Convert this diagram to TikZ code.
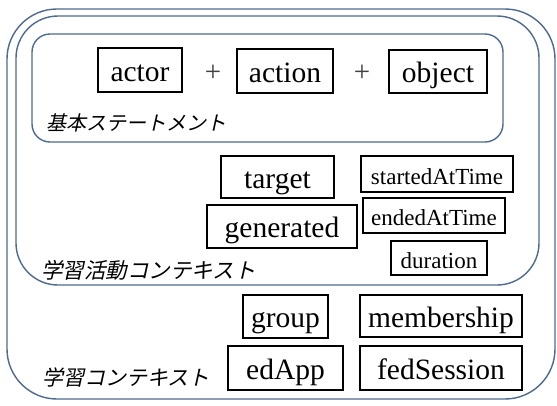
\documentclass[tikz,border=0pt]{standalone}
\usepackage{fontspec}
\setmainfont{Liberation Serif}
\newfontfamily\jpfont[FakeSlant=0.22]{Noto Sans CJK JP}
\definecolor{frame}{HTML}{4E6A8E}
\begin{document}
\begin{tikzpicture}[x=1pt,y=-1pt,
  cbox/.style={draw=black, line width=1.4pt, inner sep=0pt, text height=22pt, text depth=0pt, font=\fontsize{29.5}{30}\selectfont},
  sbox/.style={draw=black, line width=1.4pt, inner sep=0pt, text height=20pt, text depth=0pt, font=\fontsize{23}{24}\selectfont},
  plus/.style={anchor=base, text=black!75, inner sep=0pt, font=\fontsize{29}{30}\selectfont},
  region/.style={draw=frame, line width=1.4pt},
  jlabel/.style={anchor=west, inner sep=0pt, font=\jpfont\fontsize{20}{21}\selectfont}]
\useasboundingbox[fill=white] (0,0) rectangle (557,405);
% regions
\draw[region, rounded corners=50pt] (7,9) rectangle (555,399);
\draw[region, rounded corners=42pt] (16,16) rectangle (539,285);
\draw[region, rounded corners=18pt] (32,34) rectangle (503,142);
% basic statement
\node[cbox, minimum width=84pt, minimum height=44pt] (actor) at (140,70) {actor};
\node[plus] (p1) at (213,81) {+};
\node[cbox, minimum width=96pt, minimum height=44pt] (action) at (285,71) {action};
\node[plus] (p2) at (362,81) {+};
\node[cbox, minimum width=98pt, minimum height=43pt] (object) at (438,71.5) {object};
\node[jlabel] (basic) at (46,123) {基本ステートメント};
% learning activity context
\node[cbox, minimum width=113pt, minimum height=42pt] (target) at (277.5,177) {target};
\node[sbox, minimum width=152pt, minimum height=36pt] (started) at (437,174) {startedAtTime};
\node[cbox, minimum width=150pt, minimum height=43pt] (generated) at (282,226.5) {generated};
\node[sbox, minimum width=142pt, minimum height=35pt] (ended) at (434,215.5) {endedAtTime};
\node[sbox, minimum width=96pt, minimum height=34pt] (duration) at (439,258) {duration};
\node[jlabel, font=\jpfont\fontsize{21.5}{22}\selectfont] (activity) at (41,270) {学習活動コンテキスト};
% learning context
\node[cbox, minimum width=85pt, minimum height=43pt] (group) at (285.5,316.5) {group};
\node[cbox, minimum width=162pt, minimum height=42pt] (membership) at (441,316) {membership};
\node[cbox, minimum width=115pt, minimum height=44pt] (edapp) at (285.5,368) {edApp};
\node[cbox, minimum width=162pt, minimum height=44pt] (fedsession) at (441,368) {fedSession};
\node[jlabel, font=\jpfont\fontsize{21}{22}\selectfont] (context) at (42,377) {学習コンテキスト};
\end{tikzpicture}
\end{document}
